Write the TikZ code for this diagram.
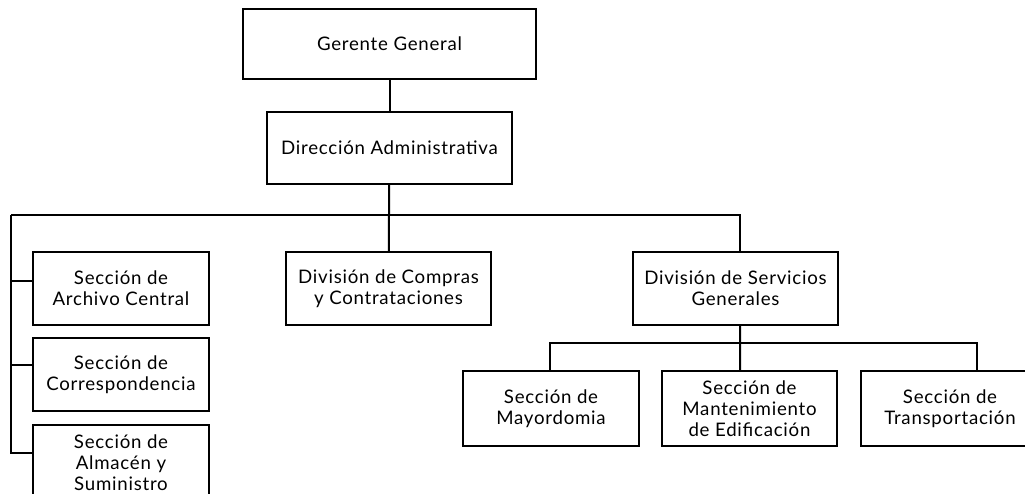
\documentclass[tikz,border=0pt]{standalone}
\usepackage{fontspec}
\setmainfont{Lato}[LetterSpace=4]
\begin{document}
\begin{tikzpicture}[x=0.75pt,y=-0.75pt,line width=1.5pt,
  unit/.style={draw,align=center,font=\fontsize{14}{15.75}\selectfont,inner sep=0pt}]
\useasboundingbox (0,0) rectangle (1025,493);
\clip (0,0) rectangle (1025,493);
% top
\node[unit,minimum width=219.75pt,minimum height=52.5pt] (gerente) at (389.5,44) {Gerente General};
\node[unit,minimum width=183.75pt,minimum height=54pt] (direccion) at (389.5,148) {Dirección Administrativa};
% second level
\node[unit,minimum width=132pt,minimum height=54.75pt] (archivo) at (121,288.5) {Sección de\\Archivo Central};
\node[unit,minimum width=132pt,minimum height=54.75pt] (corresp) at (121,374.5) {Sección de\\Correspondencia};
\node[unit,minimum width=132pt,minimum height=56.25pt] (almacen) at (121,462.5) {Sección de\\Almacén y\\Suministro};
\node[unit,minimum width=153.75pt,minimum height=54.75pt] (compras) at (388.5,288.5) {División de Compras\\y Contrataciones};
\node[unit,minimum width=153.75pt,minimum height=54.75pt] (servicios) at (735.5,288.5) {División de Servicios\\Generales};
% third level
\node[unit,minimum width=132pt,minimum height=56.25pt] (mayordomia) at (551,408.5) {Sección de\\Mayordomia};
\node[unit,minimum width=131.25pt,minimum height=56.25pt] (mantenimiento) at (749.5,408.5) {Sección de\\Mantenimiento\\de Edificación};
\node[unit,minimum width=133.5pt,minimum height=56.25pt] (transporte) at (950,408.5) {Sección de\\Transportación};
% buses
\coordinate (bus) at (389,215);
\coordinate (busleft) at (11,215);
\coordinate (subbus) at (740,343);
% connectors
\draw (gerente) -- (direccion);
\draw (direccion) -- (bus);
\draw (compras) -- (bus);
\draw ([xshift=3.4pt]servicios.north) |- (busleft);
\draw ([yshift=6pt]archivo.west) -| (busleft);
\draw ([yshift=7.5pt]corresp.west) -| (busleft);
\draw ([yshift=7.5pt]almacen.west) -| (busleft);
\draw ([xshift=3.4pt]servicios.south) -- (subbus);
\draw ([xshift=-0.75pt]mayordomia.north) |- (subbus);
\draw ([xshift=-7pt]mantenimiento.north) -- (subbus);
\draw ([xshift=20pt]transporte.north) |- (subbus);
\end{tikzpicture}
\end{document}
